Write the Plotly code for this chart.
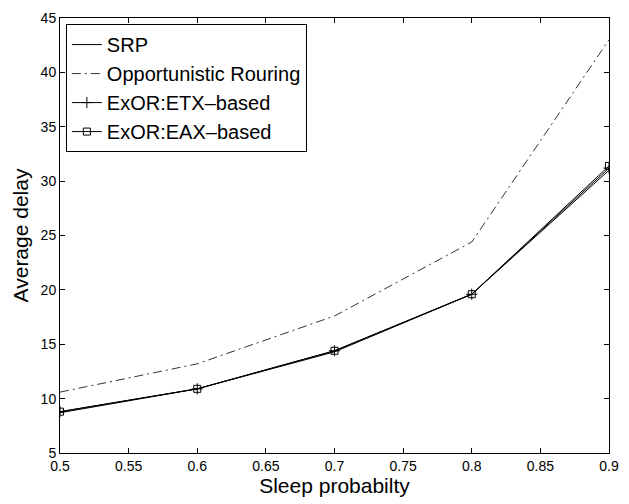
import plotly.graph_objects as go

x_vals = [0.5, 0.6, 0.7, 0.8, 0.9]
srp = [8.7, 10.9, 14.3, 19.6, 31.0]
opportunistic = [10.6, 13.2, 17.6, 24.4, 43.0]
exor_etx = [8.8, 10.9, 14.4, 19.6, 31.2]
exor_eax = [8.8, 10.9, 14.4, 19.6, 31.4]

x_ticks = [0.5, 0.55, 0.6, 0.65, 0.7, 0.75, 0.8, 0.85, 0.9]
x_tick_text = ["0.5", "0.55", "0.6", "0.65", "0.7", "0.75", "0.8", "0.85", "0.9"]
y_ticks = [5, 10, 15, 20, 25, 30, 35, 40, 45]

fig = go.Figure()
fig.add_trace(go.Scatter(x=x_vals, y=srp, mode="lines", name="SRP",
                         line=dict(color="black", width=1)))
fig.add_trace(go.Scatter(x=x_vals, y=opportunistic, mode="lines", name="Opportunistic Rouring",
                         line=dict(color="#333333", width=1, dash="9px,4px,2px,4px")))
fig.add_trace(go.Scatter(x=x_vals, y=exor_etx, mode="lines+markers", name="ExOR:ETX\u2013based",
                         line=dict(color="black", width=1),
                         marker=dict(symbol="cross-thin", size=8, color="black",
                                     line=dict(color="black", width=1))))
fig.add_trace(go.Scatter(x=x_vals, y=exor_eax, mode="lines+markers", name="ExOR:EAX\u2013based",
                         line=dict(color="black", width=1),
                         marker=dict(symbol="square-open", size=7, color="black",
                                     line=dict(color="black", width=1))))

font = "Liberation Sans, Arial, Helvetica, sans-serif"
fig.update_layout(
    width=629, height=504,
    margin=dict(l=60, r=10, t=13, b=51),
    paper_bgcolor="white", plot_bgcolor="white",
    font=dict(family=font, color="black", size=14),
    showlegend=True,
    legend=dict(x=0.0107, y=0.986, xanchor="left", yanchor="top",
                bgcolor="white", bordercolor="black", borderwidth=1,
                font=dict(size=20, family=font, color="black"),
                tracegroupgap=0, itemwidth=30),
    xaxis=dict(range=[0.5, 0.9], tickvals=x_ticks, ticktext=x_tick_text,
               ticks="inside", ticklen=5, tickcolor="black",
               showline=True, linecolor="black", linewidth=1, mirror="ticks",
               showgrid=False, zeroline=False,
               tickfont=dict(size=14),
               title=dict(text="Sleep probabilty", font=dict(size=21), standoff=3)),
    yaxis=dict(range=[5, 45], tickvals=y_ticks,
               ticks="inside", ticklen=5, tickcolor="black",
               showline=True, linecolor="black", linewidth=1, mirror="ticks",
               showgrid=False, zeroline=False,
               tickfont=dict(size=14),
               title=dict(text="Average delay", font=dict(size=21), standoff=6)),
)

fig.write_html("out.html",
               config={"displayModeBar": False},
               post_script="document.body.style.margin='0';document.body.style.padding='0';document.body.style.overflow='hidden';")
